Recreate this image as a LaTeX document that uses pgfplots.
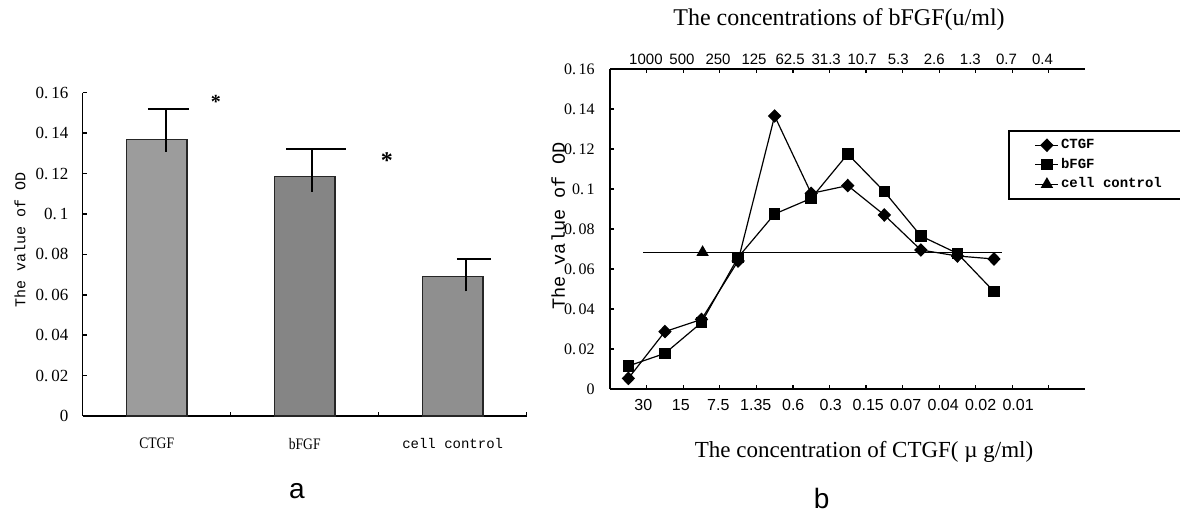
\documentclass[border=0pt]{standalone}
\usepackage{fontspec}
\setmainfont{Liberation Serif}
\newfontfamily\monofont{Liberation Mono}
\newfontfamily\sansfont{Liberation Sans}
\newfontfamily\condserif[FakeStretch=0.85]{Liberation Serif}
\usepackage{pgfplots}
\pgfplotsset{compat=1.18}
\definecolor{barA}{HTML}{9C9C9C}
\definecolor{barB}{HTML}{858585}
\definecolor{barC}{HTML}{8F8F8F}
\begin{document}
\begin{tikzpicture}
\useasboundingbox (0,0) rectangle (590pt,256pt);
% ---------------- chart a ----------------
\begin{axis}[
  at={(41.35pt,48pt)}, anchor=south west, scale only axis,
  width=222pt, height=161.65pt,
  xmin=-0.5, xmax=2.5, ymin=0, ymax=0.16,
  axis x line*=bottom, axis y line*=left,
  axis line style={-, line width=0.8pt},
  tick align=inside, major tick length=2pt,
  tick style={black, line width=0.8pt},
  xtick={0.5,1.5,2.5}, xticklabels={},
  extra x ticks={0,1,2},
  extra x tick labels={{\condserif\fontsize{8}{9}\selectfont CTGF},{\condserif\fontsize{8}{9}\selectfont bFGF},{\monofont cell control}},
  extra x tick style={major tick length=0pt},
  xticklabel style={font=\fontsize{7}{8}\selectfont, inner sep=0pt},
  xticklabel shift=11pt,
  ytick={0,0.02,0.04,0.06,0.08,0.1,0.12,0.14,0.16},
  yticklabels={0,0.\,02,0.\,04,0.\,06,0.\,08,0.\,1,0.\,12,0.\,14,0.\,16},
  yticklabel style={font=\fontsize{8.5}{9}\selectfont, inner sep=0pt},
  yticklabel shift=7pt,
  ylabel={The value of OD},
  ylabel style={font=\monofont\fontsize{7.5}{8}\selectfont, at={(axis description cs:-0.141,0.544)}, anchor=center},
  clip=false,
]
\addplot[ybar, bar width=30.3pt, bar shift=0pt, fill=barA, draw=black!85, line width=0.6pt] coordinates {(0,0.137)};
\addplot[ybar, bar width=30.3pt, bar shift=0pt, fill=barB, draw=black!85, line width=0.6pt] coordinates {(1,0.1185)};
\addplot[ybar, bar width=30.3pt, bar shift=0pt, fill=barC, draw=black!85, line width=0.6pt] coordinates {(2,0.069)};
% error whiskers (lower end to upper end)
\addplot[black, line width=0.8pt, mark=none] coordinates {(0.063,0.1308) (0.063,0.1518)};
\addplot[black, line width=0.8pt, mark=none] coordinates {(1.049,0.111) (1.049,0.132)};
\addplot[black, line width=0.8pt, mark=none] coordinates {(2.09,0.0617) (2.09,0.0777)};
% caps
\addplot[black, line width=0.8pt, mark=none] coordinates {(-0.059,0.1518) (0.218,0.1518)};
\addplot[black, line width=0.8pt, mark=none] coordinates {(0.874,0.132) (1.279,0.132)};
\addplot[black, line width=0.8pt, mark=none] coordinates {(2.029,0.0777) (2.259,0.0777)};
\node[font=\bfseries\fontsize{10}{10}\selectfont] at (axis cs:0.40,0.1555) {*};
\node[font=\bfseries\fontsize{12}{12}\selectfont] at (axis cs:1.555,0.1265) {*};
\end{axis}
% ---------------- chart b ----------------
\begin{axis}[
  at={(305.05pt,61.5pt)}, anchor=south west, scale only axis,
  width=237.65pt, height=160pt,
  xmin=-0.5, xmax=12.5, ymin=0, ymax=0.16,
  axis x line*=bottom, axis y line*=left,
  axis line style={-, line width=0.8pt},
  tick align=inside, major tick length=2pt,
  tick style={black, line width=0.6pt},
  xtick={0.5,1.5,...,11.5}, xticklabels={},
  extra x ticks={0.41,1.435,2.46,3.485,4.51,5.535,6.56,7.585,8.61,9.635,10.66},
  extra x tick labels={30,15,7.5,1.35,0.6,0.3,0.15,0.07,0.04,0.02,0.01},
  extra x tick style={major tick length=0pt},
  xticklabel style={font=\sansfont\fontsize{8}{9}\selectfont, inner sep=0pt},
  xticklabel shift=5pt,
  ytick={0,0.02,0.04,0.06,0.08,0.1,0.12,0.14,0.16},
  yticklabels={0,0.\,02,0.\,04,0.\,06,0.\,08,0.\,1,0.\,12,0.\,14,0.\,16},
  yticklabel style={font=\fontsize{8}{9}\selectfont, inner sep=0pt},
  yticklabel shift=7.5pt,
  ylabel={The value of OD},
  ylabel style={font=\monofont\fontsize{9.3}{10}\selectfont, at={(axis description cs:-0.109,0.509)}, anchor=center},
  legend style={at={(0.8372,0.8085)}, anchor=north west, draw=black, line width=0.8pt,
    font=\monofont\bfseries\fontsize{7}{8}\selectfont, inner xsep=13pt, inner ysep=3pt,
    nodes={inner sep=1pt}, row sep=1.3pt},
  legend cell align=left,
  legend image code/.code={\draw[mark repeat=2,mark phase=2,#1] plot coordinates {(0pt,0pt) (5.75pt,0pt) (11.5pt,0pt)};},
  clip=false,
]
\addplot[black, line width=0.6pt, mark=diamond*, mark size=3pt, mark options={xscale=1.3, solid}]
  coordinates {(0,0.0053)(1,0.0287)(2,0.0348)(3,0.064)(4,0.1365)(5,0.0978)(6,0.1017)(7,0.087)(8,0.0695)(9,0.0665)(10,0.065)};
\addlegendentry{CTGF}
\addplot[black, line width=0.6pt, mark=square*, mark size=2.6pt, mark options={solid}]
  coordinates {(0,0.0115)(1,0.0178)(2,0.0332)(3,0.0658)(4,0.0875)(5,0.0953)(6,0.1175)(7,0.0987)(8,0.0765)(9,0.0678)(10,0.0487)};
\addlegendentry{bFGF}
\addplot[black, line width=0.6pt, mark=triangle*, mark size=3pt, mark indices={2}, mark options={solid}]
  coordinates {(0.41,0.0683)(2.03,0.0683)(10.21,0.0683)};
\addlegendentry{cell control}
\end{axis}
\begin{axis}[
  at={(305.05pt,61.5pt)}, anchor=south west, scale only axis,
  width=237.65pt, height=160pt,
  xmin=-0.5, xmax=12.5, ymin=0, ymax=0.16,
  axis x line*=top, hide y axis,
  axis line style={-, line width=0.8pt},
  tick align=inside, major tick length=2pt,
  tick style={black, line width=0.6pt},
  xtick={0.5,1.5,...,11.5}, xticklabels={},
  extra x ticks={0.48,1.466,2.452,3.438,4.424,5.41,6.396,7.382,8.368,9.354,10.34,11.326},
  extra x tick labels={1000,500,250,125,62.5,31.3,10.7,5.3,2.6,1.3,0.7,0.4},
  extra x tick style={major tick length=0pt},
  xticklabel style={font=\sansfont\fontsize{7.5}{9}\selectfont, inner sep=0pt},
  xticklabel shift=2pt,
]
\end{axis}
\node[font=\fontsize{12}{14}\selectfont] at (419.5pt,246pt) {The concentrations of bFGF(u/ml)};
\node[font=\fontsize{11.5}{14}\selectfont] at (432pt,30.15pt) {The concentration of CTGF( \textmu\ g/ml)};
\node[font=\sansfont\fontsize{14}{16}\selectfont, anchor=base] at (148.5pt,6.5pt) {a};
\node[font=\sansfont\fontsize{14}{16}\selectfont, anchor=base] at (410.85pt,1.5pt) {b};
\end{tikzpicture}
\end{document}
